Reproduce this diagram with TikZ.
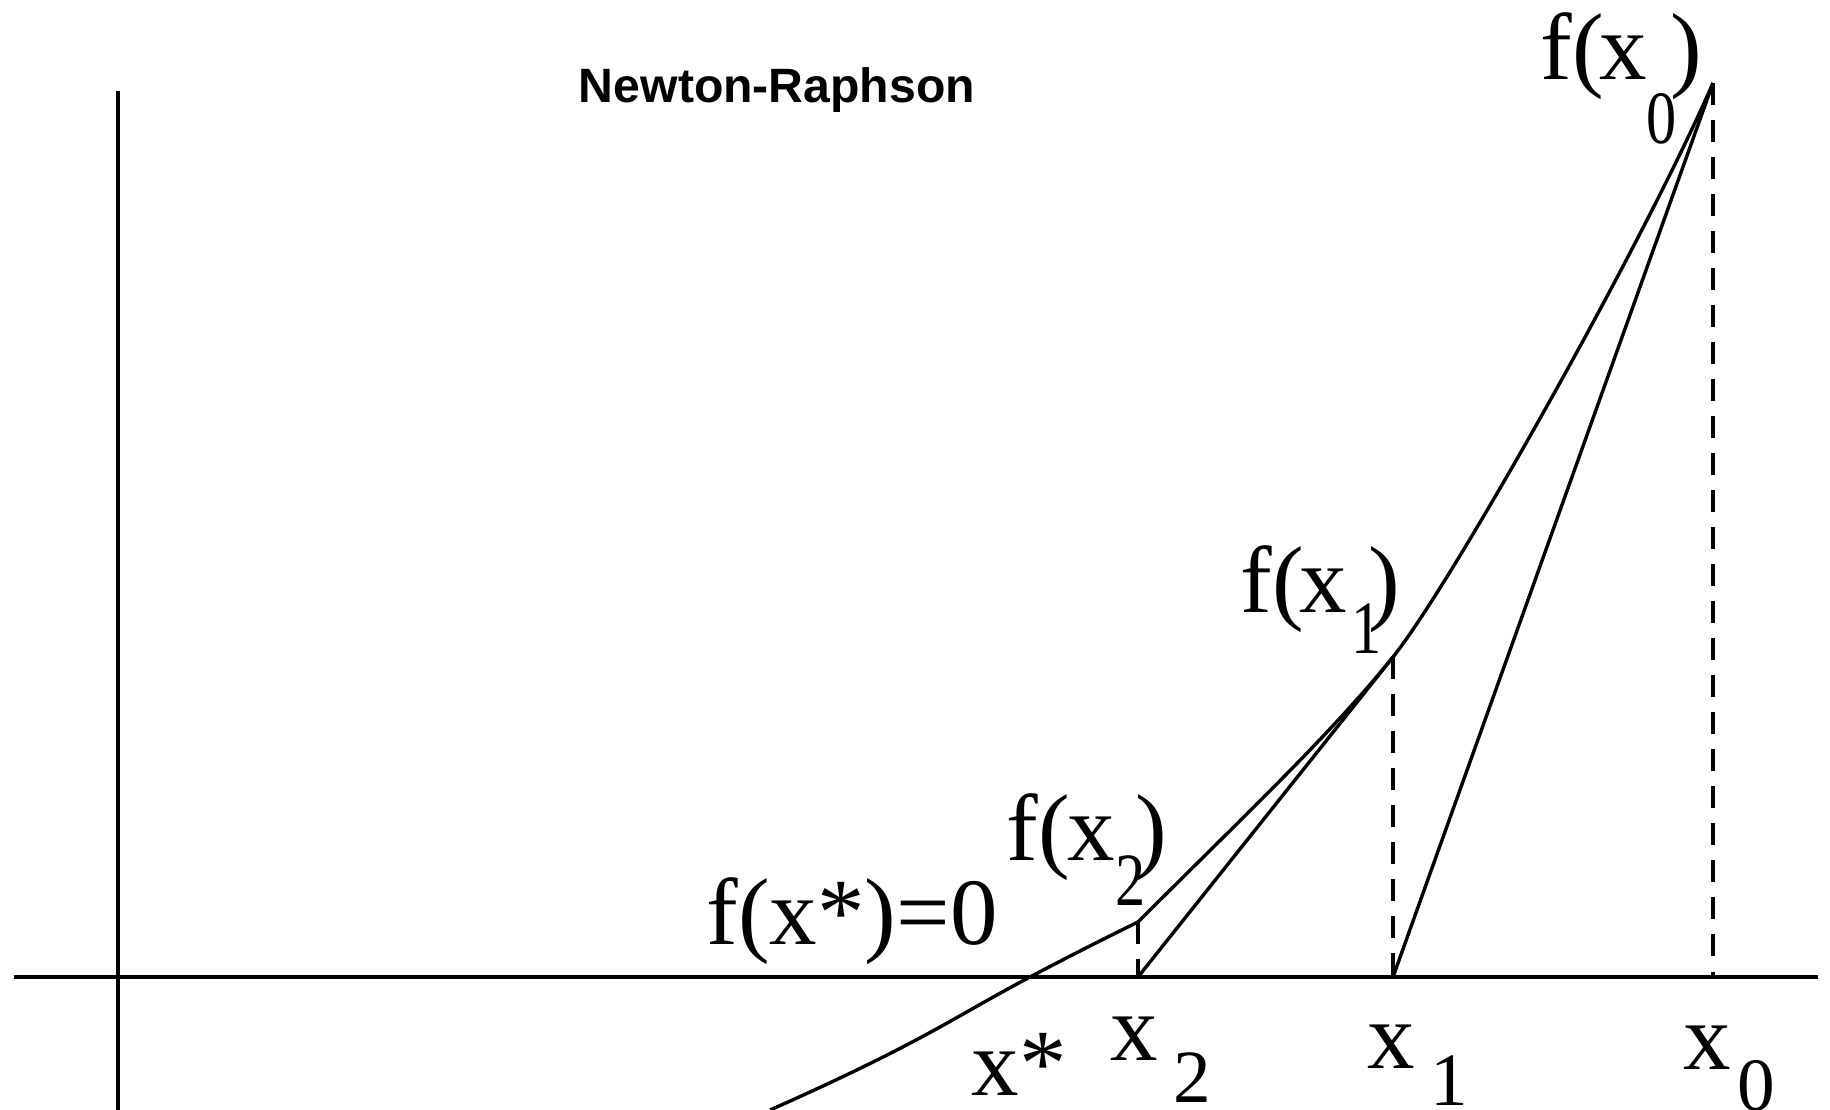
\documentclass[tikz,border=0pt]{standalone}
\usepackage{fontspec}
\setmainfont{Liberation Serif}
\newfontfamily\titlefont{Liberation Sans}
\newcommand\subsz{\fontsize{21.4pt}{24pt}\selectfont}
% lowered subscript, box height/depth smashed
\newcommand\sbx[2]{\raisebox{-#1}[0pt][0pt]{\subsz #2}}
% narrow lowered subscript (used inside f(...))
\newcommand\sbn[2]{\raisebox{-#1}[0pt][0pt]{\scalebox{0.8}[1]{\subsz #2}}}
\begin{document}
\begin{tikzpicture}[x=0.01cm,y=-0.01cm,
  ln/.style={line width=0.034cm, line join=round},
  dsh/.style={line width=0.032cm, dash pattern=on 0.22cm off 0.15cm},
  lbl/.style={anchor=base west, inner sep=0pt, font=\fontsize{27pt}{30pt}\selectfont}]
\useasboundingbox (0,0) rectangle (1830,1110);
\fill[white] (0,0) rectangle (1830,1110);
% axes
\coordinate (ytop) at (118,91);
\coordinate (ybot) at (118,1110);
\coordinate (xl) at (14,977);
\coordinate (xr) at (1818,977);
\draw[ln] (ytop) -- (ybot);
\draw[ln] (xl) -- (xr);
% points
\coordinate (fx0) at (1713,83);
\coordinate (fx1) at (1393,657);
\coordinate (fx2) at (1138,922);
\coordinate (x0) at (1713,977);
\coordinate (x1) at (1393,977);
\coordinate (x2) at (1138,977);
% curve
\draw[ln] plot[smooth, tension=0.8] coordinates {(770,1110) (893,1052) (1030,977) (1138,922)};
\draw[ln] (fx2) .. controls (1250,810) and (1330,735) .. (fx1)
          .. controls (1450,586) and (1640,250) .. (fx0);
% tangents
\draw[ln] (fx0) -- (x1);
\draw[ln] (fx1) -- (x2);
% dashed drops
\draw[dsh] (fx0) -- (x0);
\draw[dsh] (fx1) -- (x1);
\draw[dsh] (fx2) -- (x2);
% labels
\node[anchor=base, inner sep=0pt, font=\titlefont\bfseries\fontsize{13.7pt}{16pt}\selectfont] (title) at (777,103) {Newton-Raphson};
\node[lbl] (lf0) at (1540,80) {f(\kern-0.05cm x\sbn{0.63cm}{0}\kern-0.06cm)};
\node[lbl] (lf1) at (1240,613) {f(\kern-0.05cm x\kern0.05cm\sbn{0.40cm}{1}\kern-0.13cm)};
\node[lbl] (lf2) at (1006,860) {f(\kern-0.02cm x\sbn{0.45cm}{2}\kern-0.10cm)};
\node[lbl] (lfs) at (706,945) {f(x*)=0};
\node[lbl] (lxs) at (971,1095) {x*};
\node[lbl] (lx2) at (1110,1060) {x\kern0.15cm\sbx{0.42cm}{2}};
\node[lbl] (lx1) at (1367,1068) {x\kern0.15cm\sbx{0.37cm}{1}};
\node[lbl] (lx0) at (1683,1069) {x\kern0.06cm\sbx{0.41cm}{0}};
\end{tikzpicture}
\end{document}
